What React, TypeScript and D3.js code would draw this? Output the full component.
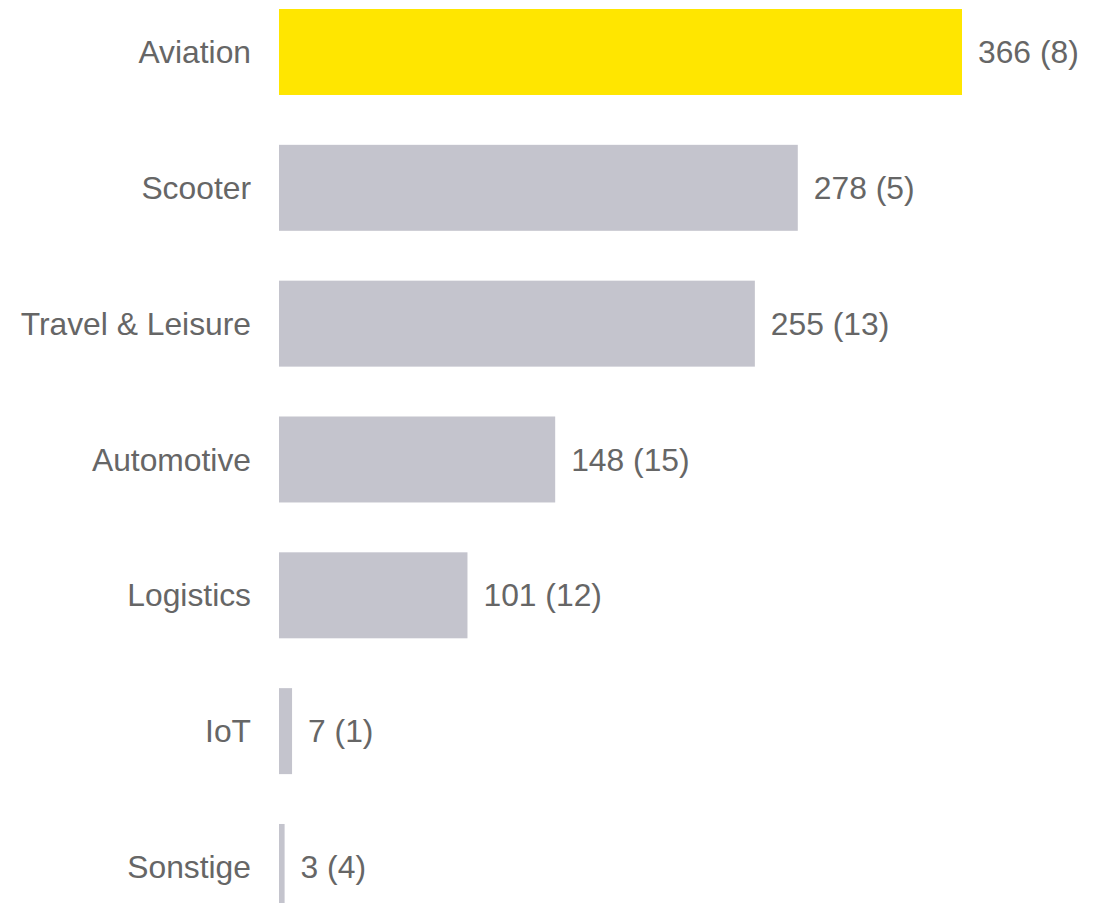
import React from "react";
import * as d3 from "d3";

const categories = ["Aviation", "Scooter", "Travel & Leisure", "Automotive", "Logistics", "IoT", "Sonstige"];
const values = [366, 278, 255, 148, 101, 7, 3];
const counts = [8, 5, 13, 15, 12, 1, 4];
const highlighted = ["Aviation"];

const W = 1097;
const H = 903;

export default function App() {
  const x = d3.scaleLinear().domain([0, 366]).range([279, 962]);
  const step = 135.83;
  const pi = 0.367;
  const y = d3
    .scaleBand<string>()
    .domain(categories)
    .range([9, 9 + step * (categories.length - pi)])
    .paddingInner(pi)
    .paddingOuter(0);
  const font = "'Liberation Sans', Arial, sans-serif";
  return (
    <svg width={W} height={H} style={{ position: "absolute", left: 0, top: 0, background: "#fff" }}>
      {categories.map((c, i) => {
        const yy = y(c)!;
        const cy = yy + y.bandwidth() / 2;
        return (
          <g key={c}>
            <rect x={x(0)} y={yy} width={x(values[i]) - x(0)} height={y.bandwidth()} fill={highlighted.includes(c) ? "#FFE600" : "#C4C4CD"} />
            <text x={251} y={cy} dy="0.35em" textAnchor="end" fontFamily={font} fontSize={31.8} fill="#666666">{c}</text>
            <text x={x(values[i]) + 16} y={cy} dy="0.35em" textAnchor="start" fontFamily={font} fontSize={31.8} fill="#666666">{`${values[i]} (${counts[i]})`}</text>
          </g>
        );
      })}
    </svg>
  );
}
